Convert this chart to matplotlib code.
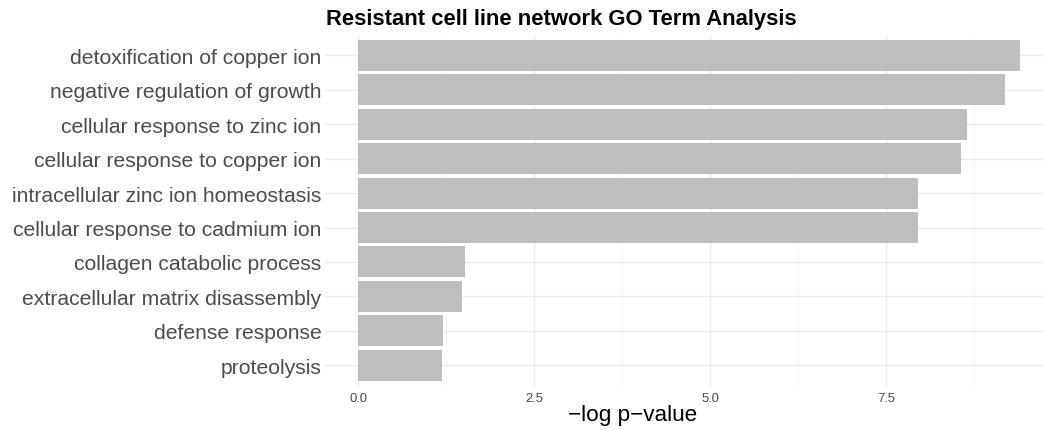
import matplotlib
matplotlib.use("Agg")
import matplotlib.pyplot as plt
from matplotlib.ticker import MultipleLocator

plt.rcParams['font.family'] = ['Liberation Sans', 'DejaVu Sans']

terms = [
    "detoxification of copper ion",
    "negative regulation of growth",
    "cellular response to zinc ion",
    "cellular response to copper ion",
    "intracellular zinc ion homeostasis",
    "cellular response to cadmium ion",
    "collagen catabolic process",
    "extracellular matrix disassembly",
    "defense response",
    "proteolysis",
]
neg_log_p = [9.40, 9.19, 8.65, 8.56, 7.95, 7.95, 1.52, 1.47, 1.20, 1.19]
x_ticks = [0.0, 2.5, 5.0, 7.5]
x_tick_labels = ["0.0", "2.5", "5.0", "7.5"]

W, H = 1044, 431
fig = plt.figure(figsize=(W / 100, H / 100), dpi=100)
left, right, top, bottom = 325, 1044, 35.6, 387
ax = fig.add_axes([left / W, 1 - bottom / H, (right - left) / W, (bottom - top) / H])

n = len(terms)
ypos = list(range(n, 0, -1))
ax.barh(ypos, neg_log_p, height=0.9, color="#BEBEBE", zorder=2)

ax.set_ylim(0.4, n + 0.6)
ax.set_xlim(-0.47, -0.47 + (right - left) / 70.4)
ax.set_yticks(ypos)
ax.set_yticklabels(terms, fontsize=15.2, color="#4D4D4D")
ax.set_xticks(x_ticks)
ax.set_xticklabels(x_tick_labels, fontsize=9.4, color="#4D4D4D")
ax.xaxis.set_minor_locator(MultipleLocator(1.25))
ax.tick_params(axis='y', length=0, pad=2.5)
ax.tick_params(axis='x', which='both', length=0, pad=4.5)

ax.grid(True, which='major', color="#EBEBEB", linewidth=1.0, zorder=0)
ax.grid(True, which='minor', axis='x', color="#F4F4F4", linewidth=0.6, zorder=0)
ax.set_axisbelow(True)
for s in ax.spines.values():
    s.set_visible(False)

fig.text(326 / W, 1 - 19.5 / H, "Resistant cell line network GO Term Analysis",
         fontsize=15.8, fontweight='bold', ha='left', va='center', color='black')
fig.text(633 / W, 1 - 416 / H, "\u2212log p\u2212value", fontsize=16.2,
         ha='center', va='center', color='black')

fig.savefig("out.png", dpi=100)
